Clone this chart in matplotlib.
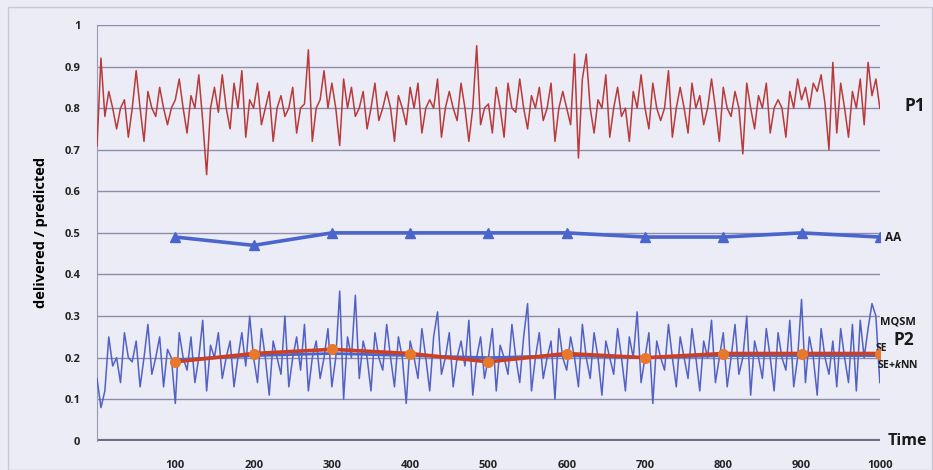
import numpy as np
import matplotlib
matplotlib.use('Agg')
import matplotlib.pyplot as plt
from matplotlib.patches import Rectangle

plt.rcParams['font.family'] = ['Open Sans', 'DejaVu Sans']
plt.rcParams['mathtext.fontset'] = 'custom'
plt.rcParams['mathtext.bfit'] = 'Open Sans:bold:italic'

# noisy per-step series (one value every 5 time units, 0..1000)
p1 = [0.71, 0.92, 0.78, 0.84, 0.80, 0.75, 0.80, 0.82, 0.73, 0.80,
      0.89, 0.80, 0.72, 0.84, 0.80, 0.78, 0.85, 0.80, 0.76, 0.80,
      0.82, 0.87, 0.80, 0.74, 0.83, 0.80, 0.88, 0.77, 0.64, 0.80,
      0.85, 0.79, 0.88, 0.80, 0.75, 0.86, 0.80, 0.89, 0.73, 0.82,
      0.80, 0.86, 0.76, 0.80, 0.84, 0.72, 0.80, 0.83, 0.78, 0.80,
      0.85, 0.74, 0.80, 0.81, 0.94, 0.72, 0.80, 0.82, 0.89, 0.80,
      0.86, 0.80, 0.71, 0.87, 0.80, 0.85, 0.78, 0.80, 0.84, 0.75,
      0.80, 0.86, 0.77, 0.80, 0.84, 0.80, 0.72, 0.83, 0.80, 0.76,
      0.85, 0.80, 0.86, 0.74, 0.80, 0.82, 0.80, 0.87, 0.73, 0.80,
      0.84, 0.80, 0.77, 0.86, 0.80, 0.72, 0.80, 0.95, 0.76, 0.80,
      0.81, 0.74, 0.85, 0.80, 0.73, 0.86, 0.80, 0.79, 0.87, 0.80,
      0.75, 0.83, 0.80, 0.85, 0.77, 0.80, 0.86, 0.72, 0.80, 0.84,
      0.80, 0.76, 0.93, 0.68, 0.87, 0.93, 0.80, 0.74, 0.82, 0.80,
      0.88, 0.73, 0.80, 0.85, 0.78, 0.80, 0.72, 0.84, 0.80, 0.88,
      0.80, 0.75, 0.86, 0.80, 0.77, 0.80, 0.89, 0.73, 0.80, 0.85,
      0.80, 0.74, 0.86, 0.80, 0.83, 0.76, 0.80, 0.87, 0.80, 0.72,
      0.85, 0.80, 0.78, 0.84, 0.80, 0.69, 0.86, 0.80, 0.75, 0.83,
      0.80, 0.86, 0.74, 0.80, 0.82, 0.80, 0.73, 0.84, 0.80, 0.87,
      0.82, 0.85, 0.80, 0.86, 0.84, 0.88, 0.81, 0.70, 0.91, 0.74,
      0.86, 0.80, 0.73, 0.84, 0.80, 0.87, 0.76, 0.91, 0.83, 0.87,
      0.80]

p2 = [0.15, 0.08, 0.12, 0.25, 0.18, 0.20, 0.14, 0.26, 0.20, 0.19,
      0.24, 0.13, 0.20, 0.28, 0.16, 0.20, 0.25, 0.13, 0.22, 0.20,
      0.09, 0.26, 0.20, 0.17, 0.25, 0.14, 0.20, 0.29, 0.12, 0.23,
      0.20, 0.26, 0.15, 0.20, 0.24, 0.13, 0.20, 0.26, 0.18, 0.30,
      0.20, 0.14, 0.27, 0.20, 0.11, 0.24, 0.20, 0.16, 0.30, 0.13,
      0.20, 0.25, 0.17, 0.28, 0.12, 0.20, 0.24, 0.15, 0.20, 0.27,
      0.13, 0.20, 0.36, 0.10, 0.25, 0.20, 0.35, 0.15, 0.24, 0.20,
      0.12, 0.26, 0.20, 0.17, 0.28, 0.20, 0.13, 0.25, 0.20, 0.09,
      0.24, 0.20, 0.15, 0.27, 0.20, 0.12, 0.25, 0.31, 0.16, 0.20,
      0.26, 0.13, 0.20, 0.24, 0.18, 0.29, 0.11, 0.20, 0.25, 0.15,
      0.20, 0.27, 0.12, 0.23, 0.20, 0.16, 0.28, 0.20, 0.14, 0.25,
      0.33, 0.12, 0.20, 0.26, 0.15, 0.20, 0.24, 0.10, 0.27, 0.20,
      0.17, 0.25, 0.20, 0.13, 0.28, 0.20, 0.15, 0.26, 0.20, 0.11,
      0.24, 0.20, 0.16, 0.27, 0.20, 0.12, 0.25, 0.20, 0.31, 0.14,
      0.20, 0.26, 0.09, 0.24, 0.20, 0.17, 0.28, 0.20, 0.13, 0.25,
      0.20, 0.15, 0.27, 0.20, 0.12, 0.24, 0.20, 0.29, 0.14, 0.20,
      0.26, 0.13, 0.20, 0.28, 0.16, 0.20, 0.30, 0.11, 0.24, 0.20,
      0.15, 0.27, 0.20, 0.12, 0.26, 0.20, 0.17, 0.29, 0.13, 0.20,
      0.34, 0.14, 0.25, 0.20, 0.11, 0.27, 0.20, 0.16, 0.24, 0.13,
      0.27, 0.20, 0.14, 0.28, 0.12, 0.29, 0.20, 0.27, 0.33, 0.30,
      0.14]

# averaged series sampled every 100
t_avg = [100, 200, 300, 400, 500, 600, 700, 800, 900, 1000]
aa = [0.49, 0.47, 0.50, 0.50, 0.50, 0.50, 0.49, 0.49, 0.50, 0.49]
mqsm = [0.195, 0.205, 0.21, 0.205, 0.20, 0.205, 0.20, 0.205, 0.205, 0.205]
se_knn = [0.19, 0.21, 0.22, 0.21, 0.19, 0.21, 0.20, 0.21, 0.21, 0.21]

x_ticks = [100, 200, 300, 400, 500, 600, 700, 800, 900, 1000]
y_ticks = [0, 0.1, 0.2, 0.3, 0.4, 0.5, 0.6, 0.7, 0.8, 0.9, 1]

t = np.arange(len(p1)) * 5

bg = '#ececf6'
fig = plt.figure(figsize=(9.33, 4.70), dpi=100, facecolor=bg)
ax = fig.add_axes([0.104, 0.062, 0.839, 0.885])
ax.set_facecolor(bg)
fig.patches.append(Rectangle((0.009, 0.0), 0.99, 0.985, transform=fig.transFigure,
                             fill=False, edgecolor='#c8c8d8', lw=1))

for yv in y_ticks[1:]:
    ax.axhline(yv, color='#8c8cab', lw=1, zorder=1)

ax.plot(t, p1, color='#b83a3a', lw=1.1, zorder=3)
ax.plot(t, p2, color='#5261c4', lw=1.1, zorder=3)

ax.plot(t_avg, aa, color='#4a66cc', lw=2.6, marker='^', ms=7, zorder=4)
ax.plot(t_avg, mqsm, color='#4a66cc', lw=2, zorder=4)
ax.plot(t_avg, se_knn, color='#cc3f22', lw=2.6, marker='o', ms=7,
        markerfacecolor='#e8782a', markeredgecolor='#e8782a', zorder=5)

ax.axhline(0, color='#6e6e80', lw=3, zorder=2)

ax.set_xlim(0, 1000)
ax.set_ylim(0, 1)
ax.set_xticks(x_ticks)
ax.set_yticks(y_ticks)
ax.set_yticklabels(['0', '0.1', '0.2', '0.3', '0.4', '0.5', '0.6', '0.7', '0.8', '0.9', '1'])
ax.tick_params(axis='both', length=0, labelsize=8, colors='#222222')
ax.tick_params(axis='x', pad=14)
ax.tick_params(axis='y', pad=12)
for lab in ax.get_xticklabels() + ax.get_yticklabels():
    lab.set_fontweight('bold')

for s in ['top', 'right', 'bottom']:
    ax.spines[s].set_visible(False)
ax.spines['left'].set_color('#9a9ab0')
ax.spines['left'].set_linewidth(0.8)

ax.set_ylabel('delivered / predicted', fontsize=10.5, fontweight='bold', labelpad=12)

kw = dict(fontweight='bold', color='#1a1a1a', clip_on=False, va='center', ha='left')
ax.text(1032, 0.805, 'P1', fontsize=12.5, **kw)
ax.text(1007, 0.49, 'AA', fontsize=8.5, **kw)
ax.text(1000, 0.286, 'MQSM', fontsize=8, **kw)
ax.text(1017, 0.243, 'P2', fontsize=12.5, **kw)
ax.text(995, 0.222, 'SE', fontsize=7.5, **kw)
ax.text(996, 0.183, 'SE+$\\mathbfit{k}$NN', fontsize=7.5, **kw)
ax.text(1010, 0.0, 'Time', fontsize=11.5, **kw)

plt.savefig('out.png', dpi=100, facecolor=bg)
